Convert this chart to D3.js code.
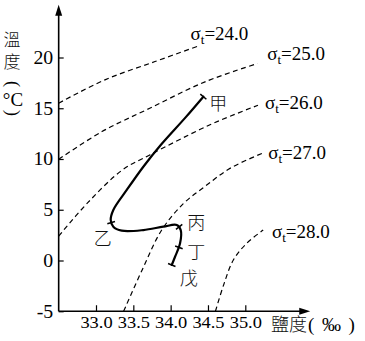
<!DOCTYPE html>
<html><head><meta charset="utf-8">
<script src="https://cdn.jsdelivr.net/npm/d3@7"></script>
<style>
html,body{margin:0;padding:0;background:#fff;}
svg{display:block;}
.sf{font-family:"Liberation Serif","DejaVu Serif",serif;}
.cj{font-family:"Noto Sans CJK TC","Noto Sans CJK SC",sans-serif;font-weight:300;}
</style></head><body>
<svg id="c" width="365" height="341"></svg>
<script>
// ---- data ----
const xTicks = [33.0, 33.5, 34.0, 34.5, 35.0];
const xTickLabels = ["33.0", "33.5", "34.0", "34.5", "35.0"];
const yTicks = [-5, 0, 5, 10, 15, 20];
const yTickLabels = ["-5", "0", "5", "10", "15", "20"];
const xTitle = "鹽度";
const xUnitParts = ["(", "‰", ")"];
const yTitle = "溫度";
const yUnit = "°C";

const sigmaLabels = ["24.0", "25.0", "26.0", "27.0", "28.0"];
// isopycnal curves, [salinity, temperature]
const sigma24 = [[32.50, 15.5], [33.12, 17.8], [33.79, 19.6], [34.36, 21.1]];
const sigma25 = [[32.50, 9.97], [33.08, 12.7], [33.72, 15.0], [34.46, 17.6], [35.16, 19.4]];
const sigma26 = [[32.50, 2.4], [32.89, 5.7], [33.35, 8.9], [33.72, 10.4], [34.39, 12.9], [34.66, 13.8], [35.17, 15.3]];
const sigma27 = [[33.37, -5.0], [33.62, -0.9], [33.88, 3.0], [34.17, 5.6], [34.46, 7.3], [34.80, 9.1], [35.24, 10.6]];
const sigma28 = [[34.60, -5.0], [34.71, -2.4], [34.84, 0.05], [35.02, 1.7], [35.24, 3.0]];

// T-S profile
const profile = [[34.438, 16.14], [34.20, 14.1], [33.87, 11.4], [33.634, 9.24], [33.412, 6.95],
  [33.232, 4.98], [33.197, 3.99], [33.232, 3.33], [33.345, 2.94], [33.634, 3.00], [33.902, 3.33],
  [34.082, 3.50], [34.135, 3.00], [34.126, 1.69], [34.059, 0.37], [34.015, -0.44]];
const stationNames = ["甲", "乙", "丙", "丁", "戊"];
const stationS = [34.438, 33.21, 34.115, 34.09, 34.015];
const stationT = [16.14, 3.72, 3.30, 1.36, -0.44];

// ---- layout ----
const svg = d3.select("#c");
const x = d3.scaleLinear().domain([33, 35]).range([96, 245.3]);
const y = d3.scaleLinear().domain([-5, 20]).range([311.25, 57.5]);
const x0 = x(32.5), y0 = y(-5);

// isopycnals
const line = d3.line().x(d => x(d[0])).y(d => y(d[1])).curve(d3.curveCatmullRom.alpha(0.5));
const sigmas = [sigma24, sigma25, sigma26, sigma27, sigma28];
const labelOff = [[-7, -6.7], [10, -3.3], [7, 3.3], [5, 6.3], [8.7, 8.3]];
sigmas.forEach((s, i) => {
  svg.append("path").attr("d", line(s)).attr("fill", "none").attr("stroke", "#000")
    .attr("stroke-width", 1.2).attr("stroke-dasharray", "5,3.5");
  const e = s[s.length - 1];
  const t = svg.append("text").attr("class", "sf").attr("x", x(e[0]) + labelOff[i][0]).attr("y", y(e[1]) + labelOff[i][1])
    .attr("font-size", 19).attr("fill", "#000");
  t.append("tspan").text("σ");
  t.append("tspan").attr("font-size", 13).attr("dy", 4).text("t");
  t.append("tspan").attr("dy", -4).text("=" + sigmaLabels[i]);
});

// profile
const prof = svg.append("path").attr("d", line(profile)).attr("fill", "none")
  .attr("stroke", "#000").attr("stroke-width", 2.2).attr("stroke-linecap", "round");
const node = prof.node();
const L = node.getTotalLength();
const samples = d3.range(0, 601).map(k => node.getPointAtLength(L * k / 600));
const nameOff = [[15, 5], [-9, 14], [17, -6], [19, 4], [17, 12]];
stationNames.forEach((nm, i) => {
  const px = x(stationS[i]), py = y(stationT[i]);
  let bi = 0, bd = Infinity;
  samples.forEach((p, k) => { const d = (p.x - px) ** 2 + (p.y - py) ** 2; if (d < bd) { bd = d; bi = k; } });
  const a = samples[Math.max(0, bi - 3)], b = samples[Math.min(600, bi + 3)];
  let tx = b.x - a.x, ty = b.y - a.y; const n = Math.hypot(tx, ty) || 1; tx /= n; ty /= n;
  const nx = -ty, ny = tx, h = 4;
  const c = samples[bi];
  svg.append("line").attr("x1", c.x - nx * h).attr("y1", c.y - ny * h)
    .attr("x2", c.x + nx * h).attr("y2", c.y + ny * h).attr("stroke", "#000").attr("stroke-width", 1.5);
  svg.append("text").attr("class", "cj").attr("x", px + nameOff[i][0]).attr("y", py + nameOff[i][1])
    .attr("text-anchor", "middle").attr("dominant-baseline", "central")
    .attr("font-size", 18).attr("fill", "#111").text(nm);
});

// axes
const ax = d3.axisBottom(x).tickValues(xTicks).tickFormat((d, i) => xTickLabels[i])
  .tickSizeInner(-6).tickSizeOuter(0).tickPadding(5.5);
const gx = svg.append("g").attr("transform", `translate(0,${y0})`).call(ax);
gx.attr("font-family", null).attr("font-size", null);
gx.select(".domain").remove();
gx.selectAll(".tick line").attr("stroke", "#000").attr("stroke-width", 1.2);
gx.selectAll(".tick text").attr("class", "sf").attr("font-size", 16).attr("fill", "#000")
  .attr("transform", "scale(1.15,1)");

const ay = d3.axisLeft(y).tickValues(yTicks).tickFormat((d, i) => yTickLabels[i])
  .tickSizeInner(-5).tickSizeOuter(0).tickPadding(5);
const gy = svg.append("g").attr("transform", `translate(${x0},0)`).call(ay);
gy.attr("font-family", null).attr("font-size", null);
gy.select(".domain").remove();
gy.selectAll(".tick line").attr("stroke", "#000").attr("stroke-width", 1.2);
gy.selectAll(".tick text").attr("class", "sf").attr("font-size", 18).attr("fill", "#000")
  .attr("transform", "scale(1.1,1)");

// axis lines with arrows
const xEnd = x(35.87), yTop = y(25.2);
svg.append("line").attr("x1", x0).attr("y1", y0).attr("x2", xEnd - 4).attr("y2", y0)
  .attr("stroke", "#000").attr("stroke-width", 1.6);
svg.append("line").attr("x1", x0).attr("y1", y0).attr("x2", x0).attr("y2", yTop + 4)
  .attr("stroke", "#000").attr("stroke-width", 1.6);
svg.append("path").attr("d", `M${xEnd},${y0} L${xEnd - 11},${y0 - 3.5} L${xEnd - 11},${y0 + 3.5} Z`).attr("fill", "#000");
svg.append("path").attr("d", `M${x0},${yTop} L${x0 - 3.5},${yTop + 11} L${x0 + 3.5},${yTop + 11} Z`).attr("fill", "#000");

// x title
svg.append("text").attr("class", "cj").attr("x", 271).attr("y", 330.5).attr("font-size", 18)
  .attr("fill", "#111").text(xTitle);
const ux = [308, 331.5, 348.5];
xUnitParts.forEach((p, i) => {
  svg.append("text").attr("class", "sf").attr("x", ux[i]).attr("y", 331)
    .attr("text-anchor", i === 1 ? "middle" : "start")
    .attr("font-size", 19).attr("fill", "#000").text(p);
});

// y title (vertical)
svg.append("text").attr("class", "cj").attr("x", 12).attr("y", 31).attr("font-size", 17)
  .attr("writing-mode", "vertical-rl").attr("letter-spacing", 5).attr("fill", "#111").text(yTitle);
svg.append("text").attr("class", "sf").attr("transform", "translate(12,84) rotate(90)").attr("text-anchor", "middle")
  .attr("y", 5).attr("font-size", 18).text("(");
svg.append("text").attr("class", "sf").attr("x", 13).attr("y", 105.5).attr("text-anchor", "middle")
  .attr("font-size", 19).text(yUnit);
svg.append("text").attr("class", "sf").attr("transform", "translate(12,113) rotate(90)").attr("text-anchor", "middle")
  .attr("y", 5).attr("font-size", 18).text(")");
</script>
</body></html>
